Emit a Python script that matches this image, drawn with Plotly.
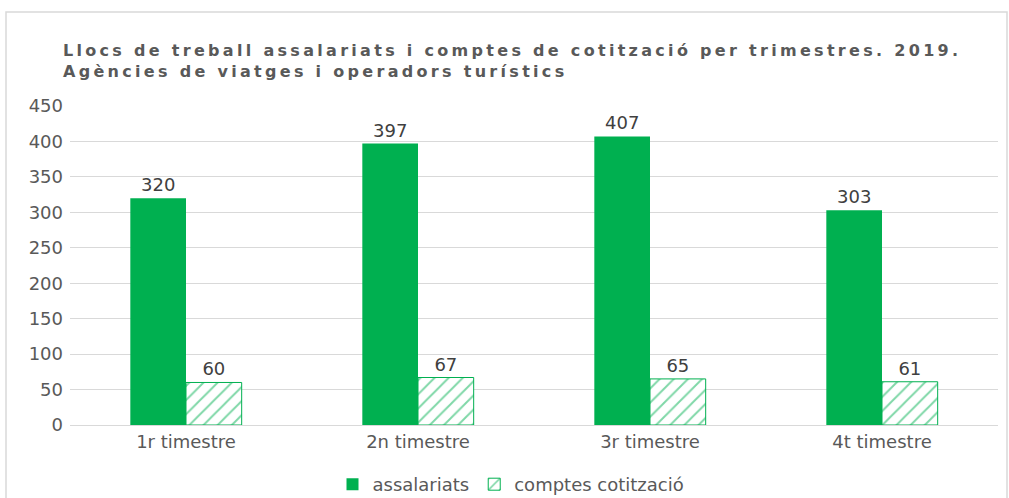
import plotly.graph_objects as go

categories = ["1r timestre", "2n timestre", "3r timestre", "4t timestre"]
assalariats = [320, 397, 407, 303]
comptes = [60, 67, 65, 61]
series_names = ["assalariats", "comptes cotització"]
title_lines = ["Llocs de treball assalariats i comptes de cotització per trimestres. 2019.",
               "Agències de viatges i operadors turístics"]
y_ticks = [0, 50, 100, 150, 200, 250, 300, 350, 400, 450]

GREEN = "#00B050"
TXT = "#595959"
FONT = "DejaVu Sans"
FS = 18

fig = go.Figure()
fig.add_trace(go.Bar(
    x=categories, y=assalariats, name=series_names[0],
    marker=dict(color=GREEN, line=dict(width=0)),
    text=assalariats, textposition="outside",
    textfont=dict(size=FS, color="#404040", family=FONT),
    cliponaxis=False,
))
fig.add_trace(go.Bar(
    x=categories, y=comptes, name=series_names[1],
    marker=dict(color="white", line=dict(color=GREEN, width=1),
                pattern=dict(shape="/", fgcolor=GREEN, bgcolor="white", size=10, solidity=0.2)),
    text=comptes, textposition="outside",
    textfont=dict(size=FS, color="#404040", family=FONT),
    cliponaxis=False,
))

W, H = 1009, 498
L, R, T, B = 70, 11, 106, 73
pw = W - L - R
ph = H - T - B

fig.update_layout(
    width=W, height=H,
    margin=dict(l=L, r=R, t=T, b=B, autoexpand=False),
    paper_bgcolor="white", plot_bgcolor="white",
    barmode="group", bargap=0.52, bargroupgap=0,
    title=dict(text="<br>".join(title_lines), x=63 / W, xanchor="left", xref="container",
               y=1 - 56 / H, yanchor="top", yref="container", pad=dict(l=0, r=0, t=0, b=0),
               font=dict(family=FONT, size=16, color=TXT, weight="bold")),
    font=dict(family=FONT, size=FS, color=TXT),
    xaxis=dict(showgrid=False, showline=True, linecolor="#D9D9D9", linewidth=1,
               ticks="", automargin=False, tickfont=dict(size=FS, color=TXT, family=FONT)),
    yaxis=dict(range=[0, 450], tickvals=y_ticks, showgrid=True, gridcolor="#D9D9D9",
               gridwidth=1, zeroline=False, ticks="", showline=False, automargin=False,
               ticklabelstandoff=6,
               tickfont=dict(size=FS, color=TXT, family=FONT)),
    showlegend=True,
    legend=dict(orientation="h", x=(511 - L) / pw, xanchor="center",
                y=1 - 466 / H, yanchor="top", yref="container",
                font=dict(size=FS, color=TXT, family=FONT), traceorder="normal"),
    shapes=[dict(type="rect", xref="paper", yref="paper",
                 x0=(6 - L) / pw, x1=(1007 - L) / pw,
                 y0=-0.4, y1=(H - B - 12) / ph,
                 line=dict(color="#D9D9D9", width=1.5), fillcolor="rgba(0,0,0,0)", layer="below")],
)

post = """
document.body.style.margin = '0';
var st = document.createElement('style');
st.innerHTML = '.gtitle { letter-spacing: 3.3px; }';
document.head.appendChild(st);
"""

fig.write_html("out.html", post_script=post, config={"displayModeBar": False})
